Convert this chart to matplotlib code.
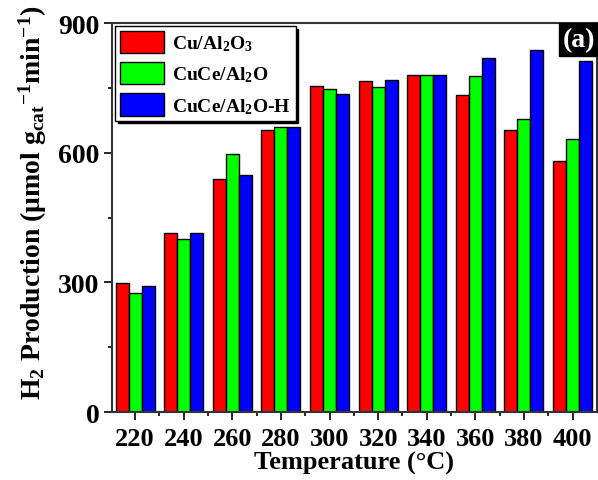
import numpy as np
import matplotlib
matplotlib.use('Agg')
import matplotlib.pyplot as plt

plt.rcParams['font.family'] = 'Liberation Serif'
plt.rcParams['font.weight'] = 'bold'
plt.rcParams['axes.labelweight'] = 'bold'
plt.rcParams['mathtext.fontset'] = 'custom'
plt.rcParams['mathtext.rm'] = 'Liberation Serif:bold'
plt.rcParams['mathtext.it'] = 'Liberation Serif:italic:bold'
plt.rcParams['mathtext.bf'] = 'Liberation Serif:bold'
plt.rcParams['mathtext.default'] = 'rm'

# datos
temps = ['220', '240', '260', '280', '300', '320', '340', '360', '380', '400']
cu_al2o3 = [298, 415, 540, 652, 754, 765, 779, 733, 652, 582]
cuce_al2o = [275, 400, 597, 659, 747, 751, 781, 777, 677, 632]
cuce_al2o_h = [292, 415, 548, 659, 736, 769, 781, 819, 837, 812]
labels = ['Cu/Al$_2$O$_3$', 'CuCe/Al$_2$O', 'CuCe/Al$_2$O-H']
colors = ['#ff0000', '#00ff00', '#0000ff']

fig = plt.figure(figsize=(5.98, 4.81), dpi=100)
ax = fig.add_axes([0.187, 0.141, 0.811, 0.809])

x = np.arange(len(temps))
w = 0.267
for i, (vals, lab, c) in enumerate(zip([cu_al2o3, cuce_al2o, cuce_al2o_h], labels, colors)):
    ax.bar(x + (i - 1) * w, vals, w, color=c, edgecolor='black', linewidth=1, label=lab)

ax.set_xlim(-0.48, 9.5)
ax.set_ylim(0, 900)
ax.set_xticks(x)
ax.set_xticklabels(temps)
ax.set_xticks(x[:-1] + 0.5, minor=True)
ax.set_yticks([0, 300, 600, 900])
ax.set_yticks([150, 450, 750], minor=True)
ax.tick_params(axis='both', which='major', direction='out', length=6, width=1.2, labelsize=20, pad=3)
ax.tick_params(axis='x', which='major', labelsize=19, pad=5)
ax.tick_params(axis='both', which='minor', direction='out', length=3, width=1.2)
for s in ax.spines.values():
    s.set_color('#333333')
    s.set_linewidth(1.5)

ax.set_xlabel('Temperature (°C)', fontsize=19, labelpad=0)
ax.set_ylabel('H$_2$ Production (μmol g$_{cat}$$^{-1}$min$^{-1}$)', fontsize=20)
ax.yaxis.set_label_coords(-0.13, 0.54)

leg = ax.legend(loc='upper left', fontsize=14, frameon=True, shadow={'color': 'black', 'alpha': 1},
                fancybox=False, edgecolor='black', handlelength=2.3, handleheight=1.4,
                borderaxespad=0.15, labelspacing=0.45, handletextpad=0.4, borderpad=0.25)
leg.get_frame().set_linewidth(1)

ax.text(0.997, 0.99, '(a)', transform=ax.transAxes, ha='right', va='top', fontsize=20,
        color='white', bbox=dict(facecolor='black', edgecolor='black', pad=3))

fig.savefig('out.png', dpi=100)
